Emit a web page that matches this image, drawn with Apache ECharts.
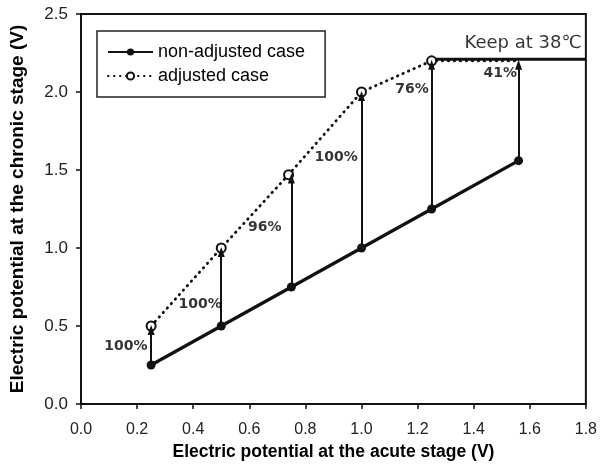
<!DOCTYPE html>
<html><head><meta charset="utf-8">
<script src="https://cdn.jsdelivr.net/npm/echarts@6/dist/echarts.min.js"></script>
<style>html,body{margin:0;padding:0;background:#fff}#c{width:600px;height:467px}</style>
</head><body><div id="c"></div>
<script>
// Data
const acute = [0.25, 0.50, 0.75, 1.00, 1.25, 1.56];
const nonAdjusted = [0.25, 0.50, 0.75, 1.00, 1.25, 1.56];
const adjustedX = [0.25, 0.50, 0.74, 1.00, 1.25, 1.56];
const adjusted = [0.50, 1.00, 1.47, 2.00, 2.20, 2.20];
const adjustedMarkerShown = [true, true, true, true, true, false];
const percentLabels = ['100%', '100%', '96%', '100%', '76%', '41%'];
const percentAnchorX = [0.16, 0.425, 0.655, 0.91, 1.18, 1.495];
const percentAnchorY = [0.37, 0.64, 1.13, 1.58, 2.02, 2.12];
const keepLevel = 2.21;
const keepRange = [1.25, 1.8];
const keepText = 'Keep at 38℃';
const xTicks = [0, 1.8, 0.2];
const yTicks = [0, 2.5, 0.5];

const FONT = 'Liberation Sans, Arial, sans-serif';
const chart = echarts.init(document.getElementById('c'), null, {renderer: 'canvas'});

const arrows = acute.map((x, i) => [
  {coord: [x, nonAdjusted[i]]},
  {coord: [x, adjusted[i] - 0.025]}
]);

chart.setOption({
  animation: false,
  grid: {left: 80, right: 13, top: 14, bottom: 63, show: true, borderColor: '#111', borderWidth: 2},
  legend: {
    left: 97, top: 31, orient: 'vertical',
    data: ['non-adjusted case', 'adjusted case'],
    borderColor: '#222', borderWidth: 1.5, padding: [12, 20, 12, 10],
    itemWidth: 45, itemHeight: 9, itemGap: 6,
    textStyle: {fontFamily: FONT, fontSize: 18, color: '#000'}
  },
  xAxis: {
    type: 'value', min: xTicks[0], max: xTicks[1], interval: xTicks[2],
    name: 'Electric potential at the acute stage (V)', nameLocation: 'middle', nameGap: 36,
    nameTextStyle: {fontFamily: FONT, fontSize: 17.5, fontWeight: 'bold', color: '#000'},
    axisLine: {lineStyle: {color: '#111', width: 2}},
    axisTick: {show: true, inside: false, length: 5, lineStyle: {color: '#111', width: 1.5}},
    axisLabel: {fontFamily: FONT, fontSize: 16, color: '#222', margin: 18, formatter: v => v.toFixed(1)},
    splitLine: {show: false}
  },
  yAxis: {
    type: 'value', min: yTicks[0], max: yTicks[1], interval: yTicks[2],
    name: 'Electric potential at the chronic stage (V)', nameLocation: 'middle', nameGap: 54,
    nameTextStyle: {fontFamily: FONT, fontSize: 19, fontWeight: 'bold', color: '#000'},
    axisLine: {lineStyle: {color: '#111', width: 2}},
    axisTick: {show: true, inside: false, length: 5, lineStyle: {color: '#111', width: 1.5}},
    axisLabel: {fontFamily: FONT, fontSize: 17, color: '#222', margin: 13, formatter: v => v.toFixed(1)},
    splitLine: {show: false}
  },
  series: [
    {
      name: 'keep', type: 'line', data: keepRange.map(x => [x, keepLevel]),
      symbol: 'none', lineStyle: {color: '#111', width: 3}, z: 2
    },
    {
      name: 'non-adjusted case', type: 'line',
      data: acute.map((x, i) => [x, nonAdjusted[i]]),
      symbol: 'circle', symbolSize: 9, showSymbol: true,
      itemStyle: {color: '#111'}, lineStyle: {color: '#111', width: 3.2}, z: 3,
      markLine: {
        silent: true, symbol: ['none', 'triangle'], symbolSize: [7, 10],
        label: {show: false},
        lineStyle: {color: '#111', width: 2, type: 'solid'},
        data: arrows
      }
    },
    {
      name: 'adjusted case', type: 'line',
      data: adjustedX.map((x, i) => ({value: [x, adjusted[i]], symbolSize: adjustedMarkerShown[i] ? 9 : 0})),
      symbol: 'emptyCircle', symbolSize: 9, showSymbol: true,
      itemStyle: {color: '#111', borderWidth: 1.3},
      lineStyle: {color: '#111', width: 2.8, type: [0.5, 5.5], cap: 'round'}, z: 4
    },
    {
      name: 'pct', type: 'scatter', symbolSize: 0,
      data: percentLabels.map((t, i) => ({value: [percentAnchorX[i], percentAnchorY[i]], name: t})),
      label: {show: true, position: 'inside', formatter: p => p.name,
        fontFamily: 'DejaVu Sans, sans-serif', fontSize: 14, fontWeight: 'bold', color: '#000'},
      z: 5
    },
    {
      name: 'keepLabel', type: 'scatter', symbolSize: 0,
      data: [{value: [1.785, 2.315], name: keepText}],
      label: {show: true, position: 'inside', align: 'right', formatter: p => p.name,
        fontFamily: 'DejaVu Sans, sans-serif', fontSize: 18, color: '#000'},
      z: 5
    }
  ]
});
</script></body></html>
